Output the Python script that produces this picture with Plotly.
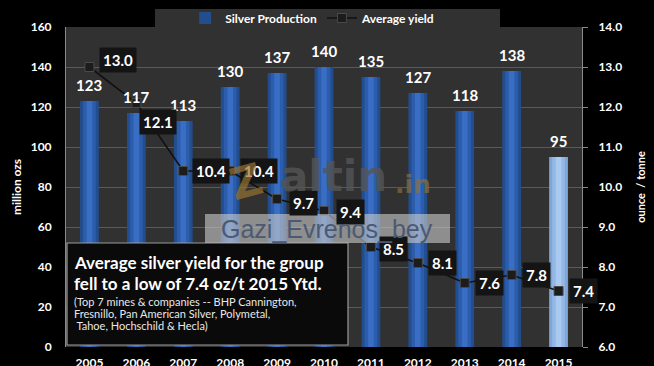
import plotly.graph_objects as go

years = [2005, 2006, 2007, 2008, 2009, 2010, 2011, 2012, 2013, 2014, 2015]
production = [123, 117, 113, 130, 137, 140, 135, 127, 118, 138, 95]
avg_yield = [13.0, 12.1, 10.4, 10.4, 9.7, 9.4, 8.5, 8.1, 7.6, 7.8, 7.4]
left_ticks = [0, 20, 40, 60, 80, 100, 120, 140, 160]
right_ticks = [6.0, 7.0, 8.0, 9.0, 10.0, 11.0, 12.0, 13.0, 14.0]

# label placement tweaks (pixels)
label_dx = [10, 3, 9, 10, 12, 12, 8, 10, 10, 10, 10]
label_dy = [7, -19, 0, 0, -4, -1, -2, 0, 0, 0, 0]

FONT = "Lato"
# cylinder-like shading: (width, colour for 2005-2014, colour for 2015)
shading = [
    (0.40, "#234E8E", "#7FA6D6"),
    (0.27, "#2C5DAC", "#94B8E5"),
    (0.12, "#3A6EC4", "#AACAF1"),
]

fig = go.Figure()
for k, (w, c_main, c_last) in enumerate(shading):
    cols = [c_main] * (len(years) - 1) + [c_last]
    fig.add_trace(go.Bar(
        x=years, y=production, name="Silver Production",
        marker=dict(color=cols, line=dict(width=0)),
        width=w, showlegend=(k == 0), hoverinfo="skip" if k else None,
        yaxis="y",
    ))
fig.add_trace(go.Scatter(
    x=years, y=avg_yield, name="Average yield", yaxis="y2",
    mode="lines+markers",
    line=dict(color="#111111", width=1.6),
    marker=dict(symbol="square", size=9, color="#1c1c1c", line=dict(color="#4a4a4a", width=1)),
))

annotations = []
# bar value labels
for yr, v in zip(years, production):
    annotations.append(dict(
        x=yr, y=v, xref="x", yref="y", text=f"<b>{v}</b>",
        showarrow=False, xanchor="center", yanchor="bottom", yshift=5,
        font=dict(color="white", size=15, family=FONT),
    ))
# yield labels
for i, (yr, v) in enumerate(zip(years, avg_yield)):
    annotations.append(dict(
        x=yr, y=v, xref="x", yref="y2", text=f"<b>{v:.1f}</b>",
        showarrow=False, xanchor="left", yanchor="middle",
        xshift=label_dx[i], yshift=label_dy[i],
        font=dict(color="white", size=15, family=FONT),
        bgcolor="#141414", borderpad=3,
    ))

# helpers for paper coords from pixel positions
L, R, T, B = 66, 582, 27, 347
W, H = 654, 366
def px(x):
    return (x - L) / (R - L)
def py(y):
    return (B - y) / (B - T)

shapes = [
    # legend background tab
    dict(type="rect", xref="paper", yref="paper", x0=px(155), x1=px(500), y0=1.0, y1=py(9),
         fillcolor="#313131", line=dict(width=0), layer="below"),
    # text box
    dict(type="rect", xref="paper", yref="paper", x0=px(67), x1=px(348), y0=py(345), y1=py(243),
         fillcolor="#0a0a0a", line=dict(color="#9a9a9a", width=1.2), layer="above"),
    # watermark box
    dict(type="rect", xref="paper", yref="paper", x0=px(205), x1=px(450), y0=py(243), y1=py(214),
         fillcolor="rgba(200,200,200,0.62)", line=dict(width=0), layer="above"),
]

box_title = ["Average silver yield for the group", "fell to a low of 7.4 oz/t 2015 Ytd."]
box_note = ["(Top 7 mines &amp; companies -- BHP Cannington,", "Fresnillo, Pan American Silver, Polymetal,",
            "&#160;Tahoe, Hochschild &amp; Hecla)"]
for line, yy in zip(box_title, [262, 283]):
    annotations.append(dict(xref="paper", yref="paper", x=px(72), y=py(yy), xanchor="left", yanchor="middle",
                            text=f"<b>{line}</b>", showarrow=False,
                            font=dict(color="white", size=17, family=FONT)))
for line, yy in zip(box_note, [301, 313, 325]):
    annotations.append(dict(xref="paper", yref="paper", x=px(72), y=py(yy), xanchor="left", yanchor="middle",
                            text=line, showarrow=False, font=dict(color="#e8e8e8", size=11, family=FONT)))

annotations += [
    # watermarks
    dict(xref="paper", yref="paper", x=px(278), y=py(176), xanchor="left", yanchor="middle",
         text="<b>altin</b>", showarrow=False,
         font=dict(color="rgba(85,85,85,0.8)", size=42, family="DejaVu Sans")),
    dict(xref="paper", yref="paper", x=px(393), y=py(184), xanchor="left", yanchor="middle",
         text="<b>.in</b>", showarrow=False,
         font=dict(color="rgba(140,110,60,0.7)", size=25, family="DejaVu Sans")),
    dict(xref="paper", yref="paper", x=px(246), y=py(181), xanchor="center", yanchor="middle",
         text="<b>Z</b>", showarrow=False, textangle=-15,
         font=dict(color="rgba(150,115,50,0.7)", size=44, family="DejaVu Sans")),
    dict(xref="paper", yref="paper", x=px(327), y=py(229), xanchor="center", yanchor="middle",
         text="Gazi_Evrenos_bey", showarrow=False,
         font=dict(color="#4b5a72", size=25, family="Liberation Sans")),
]

axis_font = dict(color="white", size=12, family=FONT, weight="bold")

fig.update_layout(
    width=W, height=H,
    margin=dict(l=L, r=W - R, t=T, b=H - B, autoexpand=False),
    paper_bgcolor="black", plot_bgcolor="#313131",
    barmode="overlay",
    showlegend=True,
    legend=dict(orientation="h", x=0.478, xanchor="center", y=py(18), yanchor="middle",
                bgcolor="rgba(0,0,0,0)", font=dict(color="white", size=12, family=FONT, weight="bold"),
                itemwidth=30),
    xaxis=dict(range=[2004.5, 2015.5], tickvals=years, ticktext=[str(y) for y in years],
               showgrid=False, showline=False, zeroline=False, autorange=False, automargin=False,
               tickfont=axis_font, ticks="", ticklabelstandoff=7),
    yaxis=dict(range=[0, 160], tickvals=left_ticks, showgrid=True, gridcolor="#5a5a5a", gridwidth=1,
               zeroline=False, showline=True, linecolor="#8a8a8a", linewidth=1, autorange=False,
               automargin=False, tickfont=axis_font, ticks="", ticklabelstandoff=11,
               title=dict(text="million ozs", font=dict(color="white", size=12, family=FONT, weight="bold"),
                          standoff=6)),
    yaxis2=dict(range=[6, 14], tickvals=right_ticks, tickformat=".1f", overlaying="y", side="right",
                showgrid=False, zeroline=False, showline=True, linecolor="#8a8a8a", linewidth=1,
                autorange=False, automargin=False,
                ticks="outside", ticklen=5, tickcolor="#8a8a8a",
                tickfont=axis_font, ticklabelstandoff=8,
                title=dict(text="ounce  / tonne", font=dict(color="white", size=11, family=FONT, weight="bold"),
                           standoff=16)),
    shapes=shapes,
    annotations=annotations,
)

fig.write_html("out.html", config={"displayModeBar": False},
               post_script="document.body.style.margin='0';document.body.style.background='#000';")
